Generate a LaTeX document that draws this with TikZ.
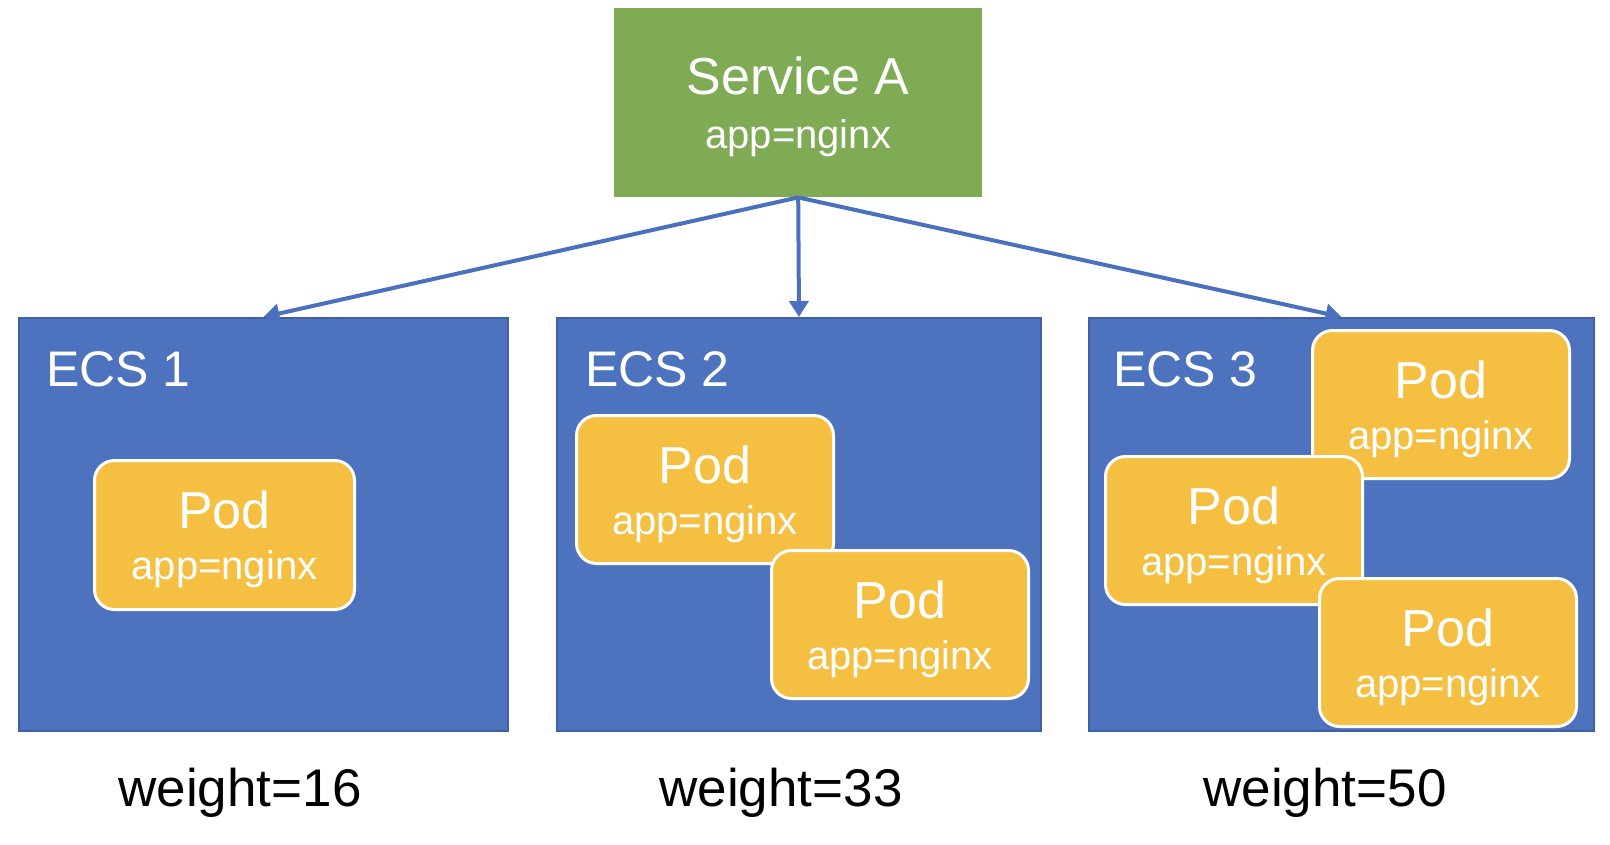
\documentclass[tikz,border=0pt]{standalone}
\usepackage{fontspec}
\setmainfont{Liberation Sans}
\usetikzlibrary{arrows.meta}

\definecolor{svcgreen}{HTML}{7FAB55}
\definecolor{ecsblue}{HTML}{4E73BE}
\definecolor{ecsedge}{HTML}{40609F}
\definecolor{podyellow}{HTML}{F5BF42}
\definecolor{linkblue}{HTML}{4A70BF}

\tikzset{
  svcbox/.style={fill=svcgreen, text=white, inner sep=0pt, align=center,
    minimum width=368pt, minimum height=189pt, anchor=north west,
    font=\fontsize{40}{54}\selectfont},
  ecsbox/.style={draw=ecsedge, fill=ecsblue, line width=2pt, inner sep=0pt,
    minimum width=489pt, minimum height=413pt, anchor=north west},
  podbox/.style={draw=white, fill=podyellow, line width=3pt, rounded corners=20pt,
    text=white, inner sep=0pt, align=center, anchor=north west,
    minimum width=257pt, minimum height=148pt,
    font=\fontsize{40}{51}\selectfont},
  ecslabel/.style={text=white, inner sep=0pt, anchor=base west,
    font=\fontsize{50}{60}\selectfont},
  weightlabel/.style={inner sep=0pt, anchor=base, font=\fontsize{53}{60}\selectfont},
  link/.style={draw=linkblue, line width=4pt, -{Triangle[length=16pt,width=19pt]}}
}
\newcommand{\podlines}{\rule{0pt}{47pt}{\fontsize{52}{51}\selectfont Pod}\\app=nginx}

\begin{document}
\begin{tikzpicture}[x=1pt,y=-1pt]
  \useasboundingbox (0,0) rectangle (1610,844);
  % service on top
  \node[svcbox] (svc) at (614,8) {\rule{0pt}{46pt}{\fontsize{52}{54}\selectfont Service A}\\app=nginx};
  % the three ECS hosts
  \node[ecsbox] (ecs1) at (18,317) {};
  \node[ecsbox, minimum width=484pt] (ecs2) at (556,317) {};
  \node[ecsbox, minimum width=505pt] (ecs3) at (1088,317) {};
  \node[ecslabel] (ecs1lbl) at (46,386) {ECS 1};
  \node[ecslabel] (ecs2lbl) at (585,386) {ECS 2};
  \node[ecslabel] (ecs3lbl) at (1113,386) {ECS 3};
  % pods
  \node[podbox, minimum width=260pt, minimum height=149pt] (pod1) at (93,459) {\podlines};
  \node[podbox] (pod2a) at (575,414) {\podlines};
  \node[podbox] (pod2b) at (770,549) {\podlines};
  \node[podbox] (pod3a) at (1311,329) {\podlines};
  \node[podbox] (pod3b) at (1104,455) {\podlines};
  \node[podbox] (pod3c) at (1318,577) {\podlines};
  % links
  \draw[link] (svc.south) -- (ecs1.north);
  \draw[link] (svc.south) -- (ecs2.north);
  \draw[link] (svc.south) -- (ecs3.north);
  % weights
  \node[weightlabel] (w1) at (240,806) {weight=16};
  \node[weightlabel] (w2) at (781,806) {weight=33};
  \node[weightlabel] (w3) at (1325,806) {weight=50};
\end{tikzpicture}
\end{document}
